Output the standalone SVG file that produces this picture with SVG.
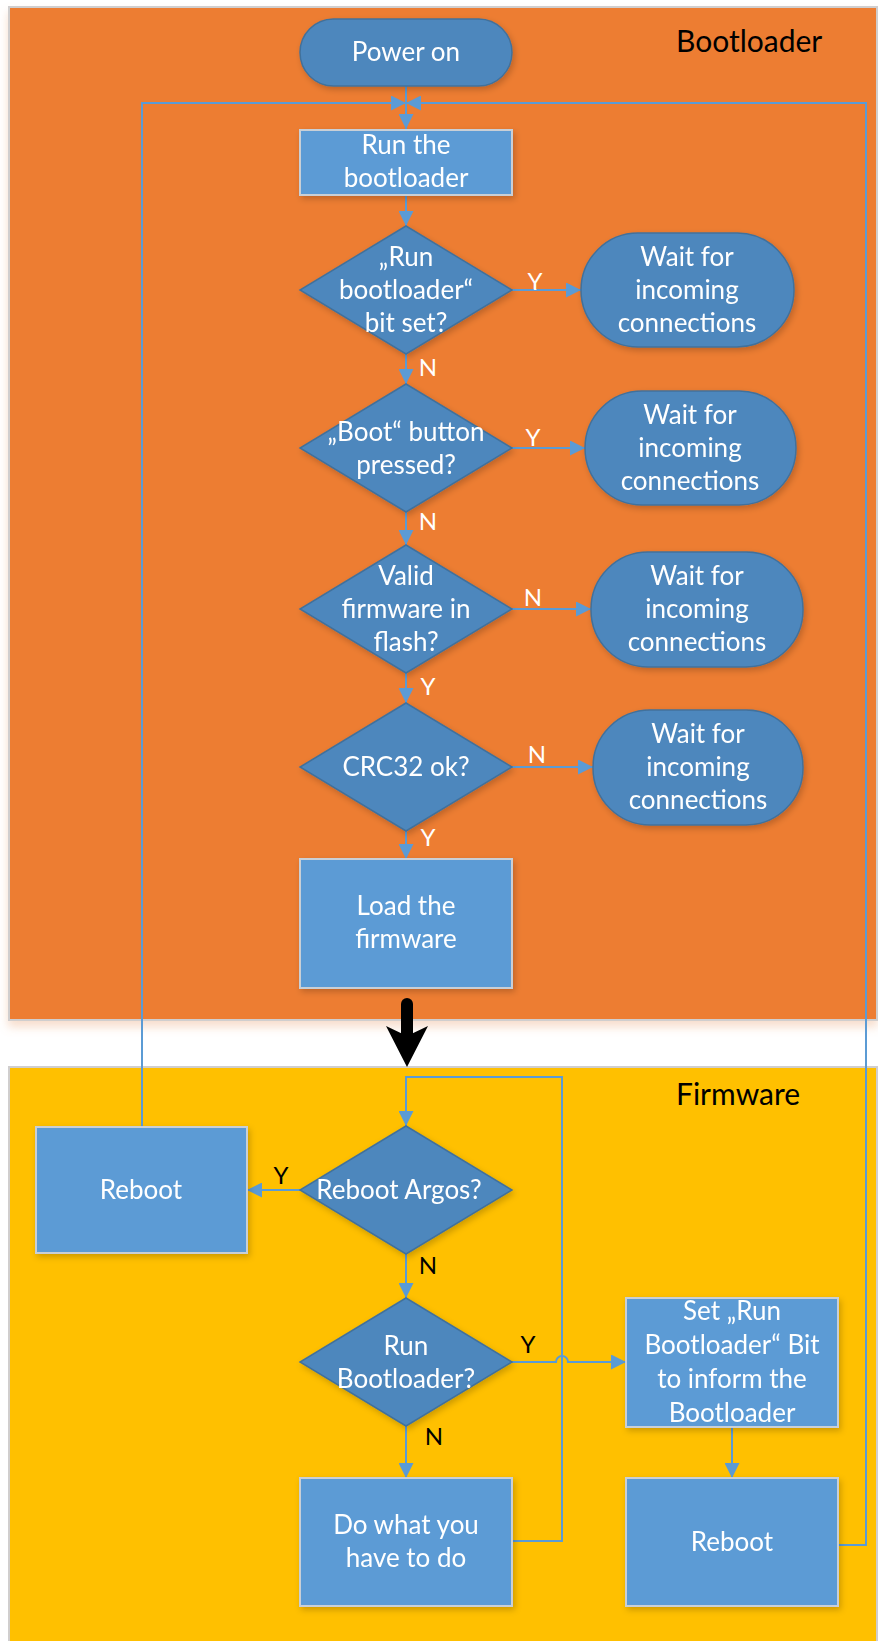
<svg xmlns="http://www.w3.org/2000/svg" width="878" height="1641" viewBox="0 0 878 1641">
<defs>
<style>
.panel{stroke:#D0CECE;stroke-width:2}
.term{fill:#4E87BD;stroke:#41719C;stroke-width:1.5}
.dia{fill:#4E87BD;stroke:#41719C;stroke-width:1.5}
.box{fill:#5B9BD5;stroke:#C9CFD6;stroke-width:2}
.t{font-family:Lato,"Liberation Sans",sans-serif;font-size:26px;fill:#FFFFFF;text-anchor:middle}
.lw{font-family:Lato,"Liberation Sans",sans-serif;font-size:24px;fill:#FFFFFF;text-anchor:middle}
.lb{font-family:Lato,"Liberation Sans",sans-serif;font-size:24px;fill:#000000;text-anchor:middle}
.title{font-family:Lato,"Liberation Sans",sans-serif;font-size:30px;fill:#000000;text-anchor:start}
.c{fill:none;stroke:#5B9BD5;stroke-width:2}
.ca{fill:none;stroke:#5B9BD5;stroke-width:2;marker-end:url(#ah)}
</style>
<marker id="ah" viewBox="0 0 10 10" refX="10" refY="5" markerWidth="15" markerHeight="15" markerUnits="userSpaceOnUse" orient="auto">
<path d="M0,0 L10,5 L0,10 z" fill="#5B9BD5"/>
</marker>
<filter id="sh" x="-10%" y="-10%" width="130%" height="130%">
<feDropShadow dx="2" dy="3" stdDeviation="3" flood-color="#000000" flood-opacity="0.2"/>
</filter>
<filter id="psh" x="-5%" y="-5%" width="110%" height="110%">
<feDropShadow dx="0" dy="6" stdDeviation="5" flood-color="#E9A070" flood-opacity="0.35"/>
</filter>
</defs>

<g id="panel-bootloader">
<rect class="panel" x="9" y="7" width="868" height="1013" fill="#ED7D31" filter="url(#psh)"/>
<text class="title" x="676" y="52">Bootloader</text>
</g>
<g id="panel-firmware">
<rect class="panel" x="9" y="1067" width="868" height="580" fill="#FFC000"/>
<text class="title" x="676" y="1105">Firmware</text>
</g>

<g id="connectors">
<path class="ca" d="M406,86 V129"/>
<path class="ca" d="M142,1127 V103 H406"/>
<path class="ca" d="M838,1545 H866 V103 H406"/>
<path class="ca" d="M406,195 V226"/>
<path class="ca" d="M512,290 H581"/>
<path class="ca" d="M406,354 V384"/>
<path class="ca" d="M512,448 H585"/>
<path class="ca" d="M406,512 V545"/>
<path class="ca" d="M512,609 H591"/>
<path class="ca" d="M406,673 V703"/>
<path class="ca" d="M512,767 H593"/>
<path class="ca" d="M406,831 V859"/>
<path class="ca" d="M300,1190 H247"/>
<path class="ca" d="M406,1254 V1298"/>
<path class="ca" d="M512,1362 H556 A6,6 0 0 1 568,1362 H626"/>
<path class="ca" d="M406,1426 V1478"/>
<path class="ca" d="M732,1427 V1478"/>
<path class="ca" d="M512,1541 H562 V1077 H406 V1126"/>
<g id="phase-arrow">
<path d="M407,1004 V1034" stroke="#000000" stroke-width="12" stroke-linecap="round" fill="none"/>
<path d="M386,1026 L407,1036 L428,1026 L407,1067 z" fill="#000000"/>
</g>
<text class="lw" x="535" y="290">Y</text>
<text class="lw" x="428" y="376">N</text>
<text class="lw" x="533" y="446">Y</text>
<text class="lw" x="428" y="530">N</text>
<text class="lw" x="533" y="606">N</text>
<text class="lw" x="428" y="695">Y</text>
<text class="lw" x="537" y="763">N</text>
<text class="lw" x="428" y="846">Y</text>
<text class="lb" x="281" y="1184">Y</text>
<text class="lb" x="428" y="1274">N</text>
<text class="lb" x="528" y="1353">Y</text>
<text class="lb" x="434" y="1445">N</text>
</g>

<g id="power-on" filter="url(#sh)">
<rect class="term" x="300" y="19" width="212" height="67" rx="33.5"/>
<text class="t" x="406" y="61">Power on</text>
</g>
<g id="run-bootloader" filter="url(#sh)">
<rect class="box" x="300" y="130" width="212" height="65"/>
<text class="t" x="406" y="154">Run the</text>
<text class="t" x="406" y="187">bootloader</text>
</g>
<g id="dec-bit" filter="url(#sh)">
<polygon class="dia" points="406,226 512,290 406,354 300,290"/>
<text class="t" x="406" y="266">„Run</text>
<text class="t" x="406" y="299">bootloader“</text>
<text class="t" x="406" y="332">bit set?</text>
</g>
<g id="wait1" filter="url(#sh)">
<rect class="term" x="581" y="233" width="213" height="114" rx="57"/>
<text class="t" x="687" y="266">Wait for</text>
<text class="t" x="687" y="299">incoming</text>
<text class="t" x="687" y="332">connections</text>
</g>
<g id="dec-button" filter="url(#sh)">
<polygon class="dia" points="406,384 512,448 406,512 300,448"/>
<text class="t" x="406" y="441">„Boot“ button</text>
<text class="t" x="406" y="474">pressed?</text>
</g>
<g id="wait2" filter="url(#sh)">
<rect class="term" x="585" y="391" width="211" height="114" rx="57"/>
<text class="t" x="690" y="424">Wait for</text>
<text class="t" x="690" y="457">incoming</text>
<text class="t" x="690" y="490">connections</text>
</g>
<g id="dec-valid" filter="url(#sh)">
<polygon class="dia" points="406,545 512,609 406,673 300,609"/>
<text class="t" x="406" y="585">Valid</text>
<text class="t" x="406" y="618">firmware in</text>
<text class="t" x="406" y="651">flash?</text>
</g>
<g id="wait3" filter="url(#sh)">
<rect class="term" x="591" y="552" width="212" height="115" rx="57"/>
<text class="t" x="697" y="585">Wait for</text>
<text class="t" x="697" y="618">incoming</text>
<text class="t" x="697" y="651">connections</text>
</g>
<g id="dec-crc" filter="url(#sh)">
<polygon class="dia" points="406,703 512,767 406,831 300,767"/>
<text class="t" x="406" y="776">CRC32 ok?</text>
</g>
<g id="wait4" filter="url(#sh)">
<rect class="term" x="593" y="710" width="210" height="115" rx="57"/>
<text class="t" x="698" y="743">Wait for</text>
<text class="t" x="698" y="776">incoming</text>
<text class="t" x="698" y="809">connections</text>
</g>
<g id="load-firmware" filter="url(#sh)">
<rect class="box" x="300" y="859" width="212" height="129"/>
<text class="t" x="406" y="915">Load the</text>
<text class="t" x="406" y="948">firmware</text>
</g>

<g id="dec-reboot" filter="url(#sh)">
<polygon class="dia" points="406,1126 512,1190 406,1254 300,1190"/>
<text class="t" x="399" y="1199">Reboot Argos?</text>
</g>
<g id="reboot-left" filter="url(#sh)">
<rect class="box" x="36" y="1127" width="211" height="126"/>
<text class="t" x="141" y="1199">Reboot</text>
</g>
<g id="dec-runbl" filter="url(#sh)">
<polygon class="dia" points="406,1298 512,1362 406,1426 300,1362"/>
<text class="t" x="406" y="1355">Run</text>
<text class="t" x="406" y="1388">Bootloader?</text>
</g>
<g id="set-bit" filter="url(#sh)">
<rect class="box" x="626" y="1298" width="212" height="129"/>
<text class="t" x="732" y="1320">Set „Run</text>
<text class="t" x="732" y="1354">Bootloader“ Bit</text>
<text class="t" x="732" y="1388">to inform the</text>
<text class="t" x="732" y="1422">Bootloader</text>
</g>
<g id="do-work" filter="url(#sh)">
<rect class="box" x="300" y="1478" width="212" height="128"/>
<text class="t" x="406" y="1534">Do what you</text>
<text class="t" x="406" y="1567">have to do</text>
</g>
<g id="reboot-right" filter="url(#sh)">
<rect class="box" x="626" y="1478" width="212" height="128"/>
<text class="t" x="732" y="1551">Reboot</text>
</g>
</svg>
